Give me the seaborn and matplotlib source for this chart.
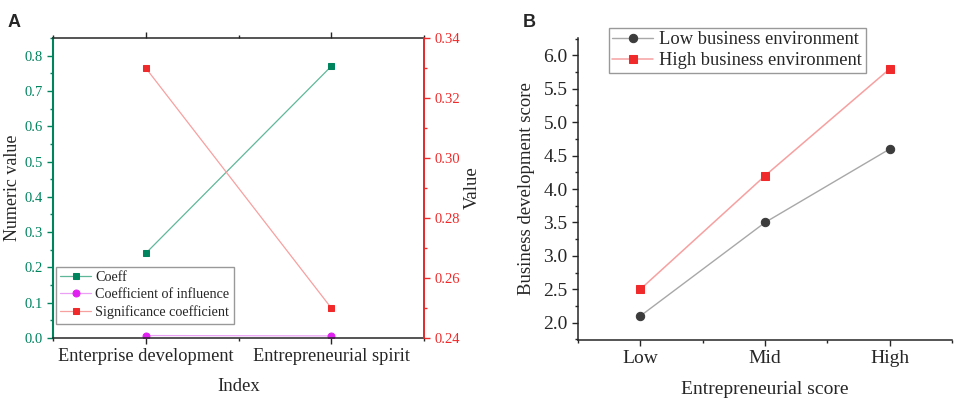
import numpy as np
import pandas as pd
import matplotlib
matplotlib.use("Agg")
import matplotlib.pyplot as plt
from matplotlib.ticker import MultipleLocator
import seaborn as sns

# Panel A data
index_labels = ["Enterprise development", "Entrepreneurial spirit"]
coeff = [0.24, 0.77]
influence = [0.007, 0.006]
significance = [0.33, 0.25]

# Panel B data
ent_levels = ["Low", "Mid", "High"]
low_env = [2.1, 3.5, 4.6]
high_env = [2.5, 4.2, 5.8]

sns.set_theme(style="ticks")
plt.rcParams["font.family"] = ["Liberation Serif", "DejaVu Serif"]
plt.rcParams["axes.linewidth"] = 1.1

green = "#00845e"
green_line = "#5fb79a"
red = "#f02a2a"
red_line = "#f7a0a0"
magenta = "#e020f0"
magenta_line = "#eaa0f5"
grey = "#3c3c3c"
grey_line = "#a8a8a8"

fig = plt.figure(figsize=(9.57, 4.07), dpi=100)
axA = fig.add_axes([0.0554, 0.1695, 0.3877, 0.7371])
axB = fig.add_axes([0.604, 0.1646, 0.391, 0.742])

# ---- Panel A ----
dfA = pd.DataFrame({"Index": index_labels, "Coeff": coeff,
                    "Influence": influence, "Significance": significance})
sns.lineplot(data=dfA, x="Index", y="Coeff", ax=axA, color=green_line, lw=0.9,
             marker="s", markersize=4.5, mfc=green, mec=green, label="Coeff", legend=False)
sns.lineplot(data=dfA, x="Index", y="Influence", ax=axA, color=magenta_line, lw=0.9,
             marker="o", markersize=5, mfc=magenta, mec=magenta,
             label="Coefficient of influence", legend=False)
axA2 = axA.twinx()
sns.lineplot(data=dfA, x="Index", y="Significance", ax=axA2, color=red_line, lw=0.9,
             marker="s", markersize=4.5, mfc=red, mec=red,
             label="Significance coefficient", legend=False)

axA.set_xlim(-0.5, 1.5)
axA.set_ylim(0, 0.85)
axA2.set_ylim(0.24, 0.34)
axA.set_xticks(range(len(index_labels)))
axA.set_xticklabels(index_labels, fontsize=13.2)
axA.xaxis.set_minor_locator(MultipleLocator(0.5))
axA.yaxis.set_major_locator(MultipleLocator(0.1))
axA.yaxis.set_minor_locator(MultipleLocator(0.05))
axA2.yaxis.set_major_locator(MultipleLocator(0.02))
axA2.yaxis.set_minor_locator(MultipleLocator(0.01))
axA.yaxis.set_major_formatter(matplotlib.ticker.FormatStrFormatter("%.1f"))
axA2.yaxis.set_major_formatter(matplotlib.ticker.FormatStrFormatter("%.2f"))

axA.tick_params(axis="y", colors=green, labelsize=10.5, length=4, width=1)
axA.tick_params(axis="y", which="minor", colors=green, length=2.5)
axA.tick_params(axis="x", which="both", top=True, length=4, width=1)
axA.tick_params(axis="x", which="minor", length=2.5)
axA2.tick_params(axis="y", colors=red, labelsize=10.5, length=4, width=1)
axA2.tick_params(axis="y", which="minor", colors=red, length=2.5)
axA.spines["left"].set_color(green)
axA.spines["left"].set_linewidth(1.5)
axA2.spines["right"].set_color(red)
axA2.spines["left"].set_visible(False)
axA2.spines["right"].set_linewidth(1.3)
axA2.spines["top"].set_visible(False)
axA2.spines["bottom"].set_visible(False)

axA.set_xlabel("Index", fontsize=13.5, labelpad=9)
axA.set_ylabel("Numeric value", fontsize=13, labelpad=2)
axA2.set_ylabel("Value", fontsize=13.5, labelpad=3)

h1, l1 = axA.get_legend_handles_labels()
h2, l2 = axA2.get_legend_handles_labels()
legA = axA2.legend(h1 + h2, l1 + l2, loc="lower left",
                   bbox_to_anchor=(0.0075, 0.048), fontsize=10.2,
                   frameon=True, fancybox=False, edgecolor="#808080",
                   handlelength=2.2, handletextpad=0.3, borderpad=0.3,
                   labelspacing=0.3, borderaxespad=0)
legA.get_frame().set_linewidth(1)

# ---- Panel B ----
dfB = pd.DataFrame({"Entrepreneurial score": ent_levels * 2,
                    "score": low_env + high_env,
                    "env": ["Low business environment"] * 3 + ["High business environment"] * 3})
sns.lineplot(data=dfB[dfB["env"] == "Low business environment"],
             x="Entrepreneurial score", y="score", ax=axB, color=grey_line, lw=1,
             marker="o", markersize=6, mfc=grey, mec=grey,
             label="Low business environment", legend=False)
sns.lineplot(data=dfB[dfB["env"] == "High business environment"],
             x="Entrepreneurial score", y="score", ax=axB, color=red_line, lw=1.1,
             marker="s", markersize=5.2, mfc=red, mec=red,
             label="High business environment", legend=False)

axB.set_xlim(-0.5, 2.5)
axB.set_ylim(1.74, 6.26)
axB.set_xticks(range(len(ent_levels)))
axB.set_xticklabels(ent_levels, fontsize=14)
axB.xaxis.set_minor_locator(MultipleLocator(0.5))
axB.yaxis.set_major_locator(MultipleLocator(0.5))
axB.yaxis.set_minor_locator(MultipleLocator(0.25))
axB.yaxis.set_major_formatter(matplotlib.ticker.FormatStrFormatter("%.1f"))
axB.tick_params(axis="y", labelsize=14, length=4, width=1)
axB.tick_params(axis="x", length=4, width=1)
axB.tick_params(which="minor", length=2.5, width=1)
sns.despine(ax=axB)
axB.set_xlabel("Entrepreneurial score", fontsize=14, labelpad=10)
axB.set_ylabel("Business development score", fontsize=13.5, labelpad=6)

h, l = axB.get_legend_handles_labels()
legB = fig.legend(h, l, loc="upper left", bbox_to_anchor=(0.636, 0.932),
                  fontsize=13.3, frameon=True, fancybox=False, edgecolor="#808080",
                  handlelength=2.2, handletextpad=0.35, borderpad=0.2,
                  labelspacing=0.2, borderaxespad=0)
legB.get_frame().set_linewidth(1)

fig.text(0.008, 0.965, "A", fontsize=13, fontweight="bold", family="Liberation Sans", va="top")
fig.text(0.546, 0.965, "B", fontsize=13, fontweight="bold", family="Liberation Sans", va="top")

fig.savefig("out.png", dpi=100)
